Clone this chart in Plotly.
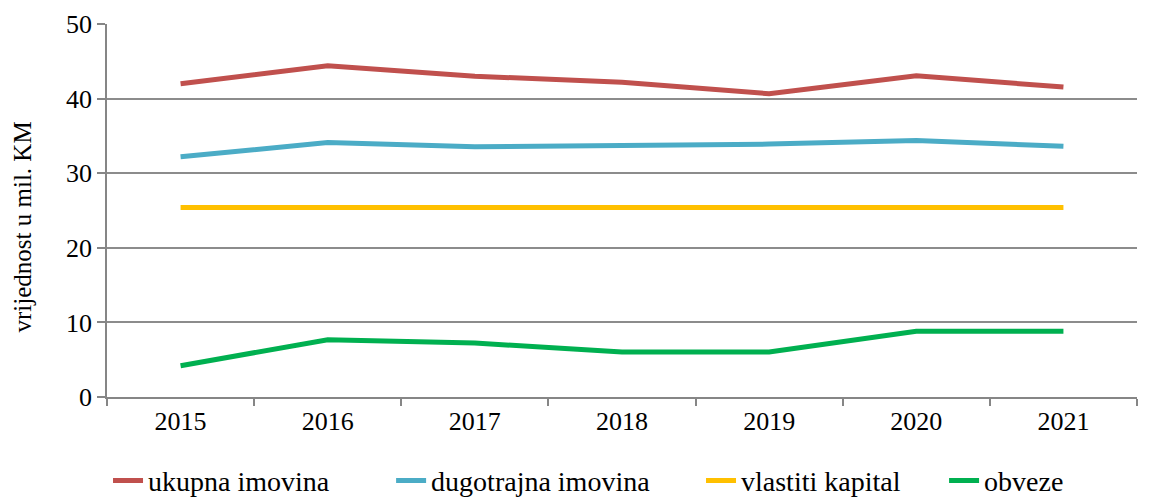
import plotly.graph_objects as go

years = ["2015", "2016", "2017", "2018", "2019", "2020", "2021"]
ukupna_imovina = [42.0, 44.4, 43.0, 42.2, 40.65, 43.05, 41.55]
dugotrajna_imovina = [32.2, 34.1, 33.55, 33.8, 33.9, 34.4, 33.6]
vlastiti_kapital = [25.4, 25.4, 25.4, 25.4, 25.4, 25.4, 25.4]
obveze = [4.2, 7.68, 7.24, 6.03, 6.03, 8.8, 8.8]

series_names = ["ukupna imovina", "dugotrajna imovina", "vlastiti kapital", "obveze"]
series_values = [ukupna_imovina, dugotrajna_imovina, vlastiti_kapital, obveze]
colors = ["#C0504D", "#4BACC6", "#FFC000", "#00B050"]

y_ticks = [0, 10, 20, 30, 40, 50]
y_title = "vrijednost u mil. KM"

FONT = "'Liberation Serif', 'Times New Roman', serif"
FS = 26

legend_ids = ["legend", "legend2", "legend3", "legend4"]
legend_x = [0.0872, 0.3340, 0.6042, 0.8161]

fig = go.Figure()
for name, vals, col, lid in zip(series_names, series_values, colors, legend_ids):
    fig.add_trace(go.Scatter(
        x=years, y=vals, name=name, mode="lines",
        line=dict(color=col, width=5), legend=lid,
    ))

legend_layouts = {
    lid: dict(
        orientation="h", xref="container", x=lx, xanchor="left",
        yref="container", y=0.035, yanchor="middle",
        font=dict(family=FONT, size=28, color="black"),
        bgcolor="rgba(0,0,0,0)",
    )
    for lid, lx in zip(legend_ids, legend_x)
}

# page has an 8px body margin, so the figure is 8px smaller than the window
fig.update_layout(
    width=1147, height=490,
    margin=dict(l=99, r=18, t=16, b=101),
    paper_bgcolor="white", plot_bgcolor="white",
    font=dict(family=FONT, size=FS, color="black"),
    showlegend=True,
    xaxis=dict(
        type="category", showgrid=False, automargin=False,
        showline=True, linecolor="#868686", linewidth=1.5,
        ticks="outside", tickson="boundaries", ticklen=7, tickcolor="#868686", tickwidth=1.5,
        tickfont=dict(family=FONT, size=FS, color="black"),
        range=[-0.5, 6.5],
    ),
    yaxis=dict(
        range=[0, 50], tickvals=y_ticks, showgrid=True, gridcolor="#8C8C8C", gridwidth=1.5,
        showline=True, linecolor="#868686", linewidth=1.5, automargin=False,
        ticks="outside", ticklen=8, tickcolor="#868686", tickwidth=1.5,
        tickfont=dict(family=FONT, size=FS, color="black"),
        zeroline=False,
    ),
    annotations=[dict(
        text=y_title, textangle=-90, showarrow=False,
        xref="paper", yref="paper", x=-0.0816, y=0.457,
        xanchor="center", yanchor="middle",
        font=dict(family=FONT, size=25, color="black"),
    )],
    **legend_layouts,
)

fig.write_html("out.html")
